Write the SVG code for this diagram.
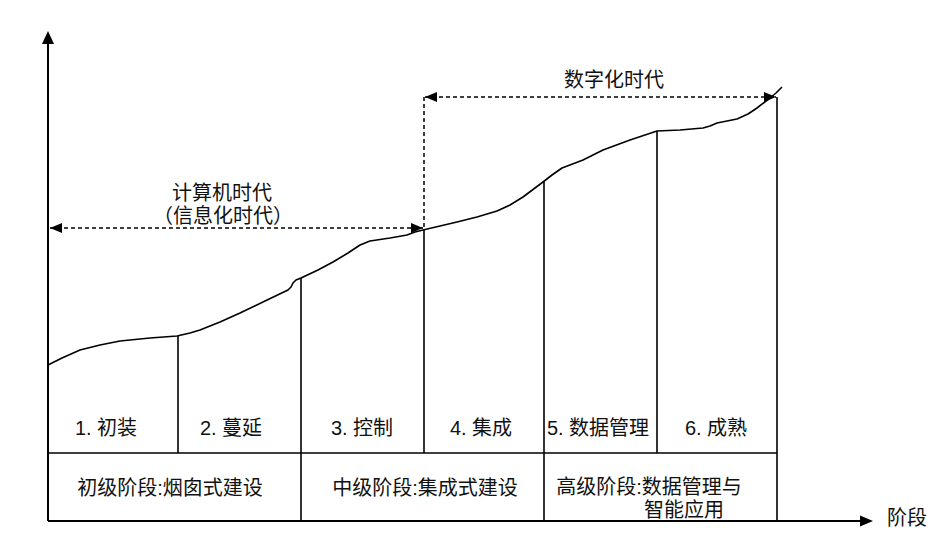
<svg xmlns="http://www.w3.org/2000/svg" width="945" height="552" viewBox="0 0 945 552">
<defs>
<style>
.ln{stroke:#000;stroke-width:1.6;fill:none}
.ax{stroke:#000;stroke-width:2;fill:none}
.ds{stroke:#000;stroke-width:1.5;fill:none;stroke-dasharray:4 3}
.tx{font-family:"Liberation Sans","Noto Sans CJK SC",sans-serif;font-size:20px;fill:#111;text-anchor:middle}
</style>
<marker id="ah" viewBox="0 0 12 10" refX="12" refY="5" markerWidth="12" markerHeight="10" markerUnits="userSpaceOnUse" orient="auto-start-reverse">
<path d="M0,0 L12,5 L0,10 z" fill="#000"/>
</marker>
</defs>
<rect width="945" height="552" fill="#fff"/>
<g id="axes">
<line class="ax" x1="48" y1="521" x2="48" y2="44"/>
<path d="M48,31 L42,44 L54,44 z" fill="#000"/>
<line class="ax" x1="48" y1="521" x2="861" y2="521"/>
<path d="M873,521 L860,515.5 L860,526.5 z" fill="#000"/>
<text class="tx" x="907" y="525">阶段</text>
</g>
<g id="curve">
<path class="ln" stroke-linejoin="round" d="M48,365 L62,358 L80,350 L100,345 L120,341 L150,338 L177,336 L190,333 L200,330 L220,322 L240,313 L265,301 L288,290 L291,287 L293,283 L296,280 L301,278 L318,270 L333,262 L348,253 L360,245 L370,241 L390,238 L407,235 L415,232 L423,230 L440,226 L457,222 L477,217 L497,211 L510,205 L523,197 L535,188 L543,182 L552,175 L562,168 L583,160 L603,150 L630,140 L657,131 L680,130 L703,128 L710,126 L717,123 L737,119 L748,114 L757,108 L770,98 L776,93 L782,87"/>
</g>
<g id="grid">
<line class="ln" x1="48" y1="453" x2="777" y2="453"/>
<line class="ln" x1="178" y1="336" x2="178" y2="453"/>
<line class="ln" x1="301" y1="278" x2="301" y2="521"/>
<line class="ln" x1="424" y1="230" x2="424" y2="453"/>
<line class="ln" x1="544" y1="182" x2="544" y2="521"/>
<line class="ln" x1="657" y1="131" x2="657" y2="453"/>
<line class="ln" x1="777" y1="97" x2="777" y2="521"/>
</g>
<g id="connectors">
<line class="ds" x1="424" y1="97" x2="424" y2="229"/>
<line class="ds" x1="50" y1="228" x2="423" y2="228" marker-start="url(#ah)" marker-end="url(#ah)"/>
<line class="ds" x1="425" y1="97" x2="776" y2="97" marker-start="url(#ah)" marker-end="url(#ah)"/>
</g>
<g id="era-digital"><text class="tx" x="614" y="87">数字化时代</text></g>
<g id="era-computer">
<text class="tx" x="222" y="200">计算机时代</text>
<text class="tx" x="223" y="223">（信息化时代）</text>
</g>
<g id="stage1"><text class="tx" x="106" y="435">1. 初装</text></g>
<g id="stage2"><text class="tx" x="231" y="435">2. 蔓延</text></g>
<g id="stage3"><text class="tx" x="362" y="435">3. 控制</text></g>
<g id="stage4"><text class="tx" x="481" y="435">4. 集成</text></g>
<g id="stage5"><text class="tx" x="598" y="435">5. 数据管理</text></g>
<g id="stage6"><text class="tx" x="716" y="435">6. 成熟</text></g>
<g id="level1"><text class="tx" x="170" y="495">初级阶段:烟囱式建设</text></g>
<g id="level2"><text class="tx" x="425" y="495">中级阶段:集成式建设</text></g>
<g id="level3">
<text class="tx" x="649" y="494">高级阶段:数据管理与</text>
<text class="tx" x="684" y="517">智能应用</text>
</g>
</svg>
